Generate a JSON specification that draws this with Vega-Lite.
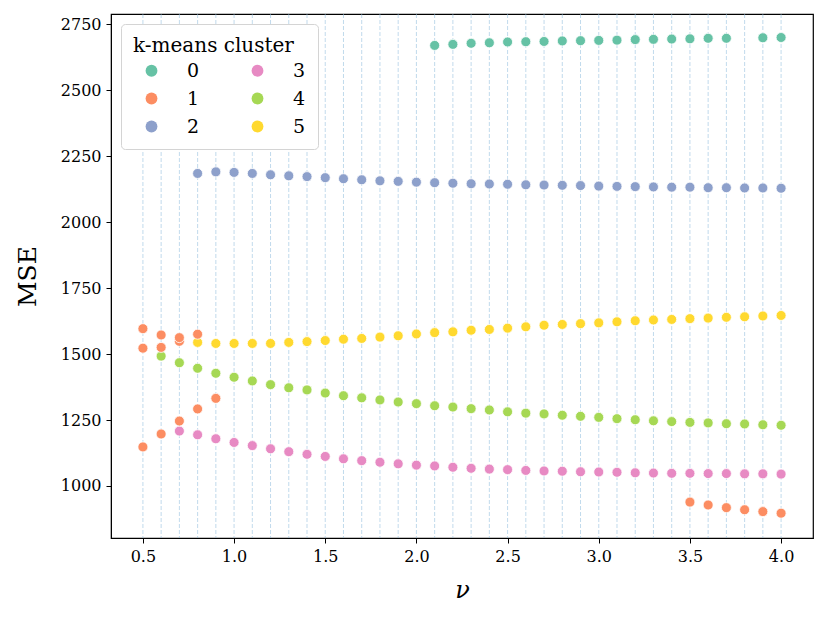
{
  "$schema": "https://vega.github.io/schema/vega-lite/v6.json",
  "autosize": "none",
  "width": 702,
  "height": 524,
  "padding": {"left": 111, "top": 14, "right": 16, "bottom": 83},
  "background": "white",
  "config": {
    "font": "DejaVu Serif",
    "view": {"stroke": "black", "strokeWidth": 1.2},
    "axis": {
      "domainColor": "black", "tickColor": "black", "labelColor": "black", "titleColor": "black",
      "grid": false, "labelFontSize": 16, "titleFontSize": 26, "tickSize": 5, "labelPadding": 5,
      "titleFontWeight": "normal", "labelFont": "DejaVu Serif", "titleFont": "DejaVu Serif"
    },
    "legend": {"labelFont": "DejaVu Serif", "titleFont": "DejaVu Serif"}
  },
  "datasets": {
    "grid": [
      {"nu": 0.5}, {"nu": 0.6}, {"nu": 0.7}, {"nu": 0.8}, {"nu": 0.9}, {"nu": 1.0},
      {"nu": 1.1}, {"nu": 1.2}, {"nu": 1.3}, {"nu": 1.4}, {"nu": 1.5}, {"nu": 1.6},
      {"nu": 1.7}, {"nu": 1.8}, {"nu": 1.9}, {"nu": 2.0}, {"nu": 2.1}, {"nu": 2.2},
      {"nu": 2.3}, {"nu": 2.4}, {"nu": 2.5}, {"nu": 2.6}, {"nu": 2.7}, {"nu": 2.8},
      {"nu": 2.9}, {"nu": 3.0}, {"nu": 3.1}, {"nu": 3.2}, {"nu": 3.3}, {"nu": 3.4},
      {"nu": 3.5}, {"nu": 3.6}, {"nu": 3.7}, {"nu": 3.8}, {"nu": 3.9}, {"nu": 4.0}
    ],
    "points": [
      {"nu": 2.1, "mse": 2669, "cluster": "0"}, {"nu": 2.2, "mse": 2673, "cluster": "0"},
      {"nu": 2.3, "mse": 2677, "cluster": "0"}, {"nu": 2.4, "mse": 2679, "cluster": "0"},
      {"nu": 2.5, "mse": 2682, "cluster": "0"}, {"nu": 2.6, "mse": 2683, "cluster": "0"},
      {"nu": 2.7, "mse": 2684, "cluster": "0"}, {"nu": 2.8, "mse": 2686, "cluster": "0"},
      {"nu": 2.9, "mse": 2687, "cluster": "0"}, {"nu": 3.0, "mse": 2688, "cluster": "0"},
      {"nu": 3.1, "mse": 2689, "cluster": "0"}, {"nu": 3.2, "mse": 2691, "cluster": "0"},
      {"nu": 3.3, "mse": 2692, "cluster": "0"}, {"nu": 3.4, "mse": 2693, "cluster": "0"},
      {"nu": 3.5, "mse": 2694, "cluster": "0"}, {"nu": 3.6, "mse": 2696, "cluster": "0"},
      {"nu": 3.7, "mse": 2696, "cluster": "0"}, {"nu": 3.9, "mse": 2698, "cluster": "0"},
      {"nu": 4.0, "mse": 2699, "cluster": "0"},
      {"nu": 0.8, "mse": 2184, "cluster": "2"}, {"nu": 0.9, "mse": 2190, "cluster": "2"},
      {"nu": 1.0, "mse": 2188, "cluster": "2"}, {"nu": 1.1, "mse": 2184, "cluster": "2"},
      {"nu": 1.2, "mse": 2179, "cluster": "2"}, {"nu": 1.3, "mse": 2175, "cluster": "2"},
      {"nu": 1.4, "mse": 2172, "cluster": "2"}, {"nu": 1.5, "mse": 2168, "cluster": "2"},
      {"nu": 1.6, "mse": 2164, "cluster": "2"}, {"nu": 1.7, "mse": 2160, "cluster": "2"},
      {"nu": 1.8, "mse": 2156, "cluster": "2"}, {"nu": 1.9, "mse": 2154, "cluster": "2"},
      {"nu": 2.0, "mse": 2151, "cluster": "2"}, {"nu": 2.1, "mse": 2149, "cluster": "2"},
      {"nu": 2.2, "mse": 2147, "cluster": "2"}, {"nu": 2.3, "mse": 2145, "cluster": "2"},
      {"nu": 2.4, "mse": 2144, "cluster": "2"}, {"nu": 2.5, "mse": 2143, "cluster": "2"},
      {"nu": 2.6, "mse": 2141, "cluster": "2"}, {"nu": 2.7, "mse": 2140, "cluster": "2"},
      {"nu": 2.8, "mse": 2139, "cluster": "2"}, {"nu": 2.9, "mse": 2138, "cluster": "2"},
      {"nu": 3.0, "mse": 2136, "cluster": "2"}, {"nu": 3.1, "mse": 2135, "cluster": "2"},
      {"nu": 3.2, "mse": 2134, "cluster": "2"}, {"nu": 3.3, "mse": 2133, "cluster": "2"},
      {"nu": 3.4, "mse": 2132, "cluster": "2"}, {"nu": 3.5, "mse": 2132, "cluster": "2"},
      {"nu": 3.6, "mse": 2130, "cluster": "2"}, {"nu": 3.7, "mse": 2130, "cluster": "2"},
      {"nu": 3.8, "mse": 2129, "cluster": "2"}, {"nu": 3.9, "mse": 2129, "cluster": "2"},
      {"nu": 4.0, "mse": 2128, "cluster": "2"},
      {"nu": 0.7, "mse": 1208, "cluster": "3"}, {"nu": 0.8, "mse": 1194, "cluster": "3"},
      {"nu": 0.9, "mse": 1179, "cluster": "3"}, {"nu": 1.0, "mse": 1165, "cluster": "3"},
      {"nu": 1.1, "mse": 1153, "cluster": "3"}, {"nu": 1.2, "mse": 1141, "cluster": "3"},
      {"nu": 1.3, "mse": 1130, "cluster": "3"}, {"nu": 1.4, "mse": 1120, "cluster": "3"},
      {"nu": 1.5, "mse": 1112, "cluster": "3"}, {"nu": 1.6, "mse": 1103, "cluster": "3"},
      {"nu": 1.7, "mse": 1096, "cluster": "3"}, {"nu": 1.8, "mse": 1090, "cluster": "3"},
      {"nu": 1.9, "mse": 1084, "cluster": "3"}, {"nu": 2.0, "mse": 1079, "cluster": "3"},
      {"nu": 2.1, "mse": 1076, "cluster": "3"}, {"nu": 2.2, "mse": 1071, "cluster": "3"},
      {"nu": 2.3, "mse": 1067, "cluster": "3"}, {"nu": 2.4, "mse": 1064, "cluster": "3"},
      {"nu": 2.5, "mse": 1062, "cluster": "3"}, {"nu": 2.6, "mse": 1059, "cluster": "3"},
      {"nu": 2.7, "mse": 1057, "cluster": "3"}, {"nu": 2.8, "mse": 1056, "cluster": "3"},
      {"nu": 2.9, "mse": 1054, "cluster": "3"}, {"nu": 3.0, "mse": 1053, "cluster": "3"},
      {"nu": 3.1, "mse": 1052, "cluster": "3"}, {"nu": 3.2, "mse": 1050, "cluster": "3"},
      {"nu": 3.3, "mse": 1049, "cluster": "3"}, {"nu": 3.4, "mse": 1048, "cluster": "3"},
      {"nu": 3.5, "mse": 1048, "cluster": "3"}, {"nu": 3.6, "mse": 1047, "cluster": "3"},
      {"nu": 3.7, "mse": 1047, "cluster": "3"}, {"nu": 3.8, "mse": 1046, "cluster": "3"},
      {"nu": 3.9, "mse": 1046, "cluster": "3"}, {"nu": 4.0, "mse": 1045, "cluster": "3"},
      {"nu": 0.6, "mse": 1492, "cluster": "4"}, {"nu": 0.7, "mse": 1467, "cluster": "4"},
      {"nu": 0.8, "mse": 1446, "cluster": "4"}, {"nu": 0.9, "mse": 1427, "cluster": "4"},
      {"nu": 1.0, "mse": 1412, "cluster": "4"}, {"nu": 1.1, "mse": 1398, "cluster": "4"},
      {"nu": 1.2, "mse": 1384, "cluster": "4"}, {"nu": 1.3, "mse": 1372, "cluster": "4"},
      {"nu": 1.4, "mse": 1364, "cluster": "4"}, {"nu": 1.5, "mse": 1352, "cluster": "4"},
      {"nu": 1.6, "mse": 1342, "cluster": "4"}, {"nu": 1.7, "mse": 1334, "cluster": "4"},
      {"nu": 1.8, "mse": 1326, "cluster": "4"}, {"nu": 1.9, "mse": 1318, "cluster": "4"},
      {"nu": 2.0, "mse": 1312, "cluster": "4"}, {"nu": 2.1, "mse": 1304, "cluster": "4"},
      {"nu": 2.2, "mse": 1299, "cluster": "4"}, {"nu": 2.3, "mse": 1293, "cluster": "4"},
      {"nu": 2.4, "mse": 1288, "cluster": "4"}, {"nu": 2.5, "mse": 1281, "cluster": "4"},
      {"nu": 2.6, "mse": 1276, "cluster": "4"}, {"nu": 2.7, "mse": 1273, "cluster": "4"},
      {"nu": 2.8, "mse": 1268, "cluster": "4"}, {"nu": 2.9, "mse": 1264, "cluster": "4"},
      {"nu": 3.0, "mse": 1260, "cluster": "4"}, {"nu": 3.1, "mse": 1255, "cluster": "4"},
      {"nu": 3.2, "mse": 1251, "cluster": "4"}, {"nu": 3.3, "mse": 1247, "cluster": "4"},
      {"nu": 3.4, "mse": 1244, "cluster": "4"}, {"nu": 3.5, "mse": 1241, "cluster": "4"},
      {"nu": 3.6, "mse": 1239, "cluster": "4"}, {"nu": 3.7, "mse": 1236, "cluster": "4"},
      {"nu": 3.8, "mse": 1235, "cluster": "4"}, {"nu": 3.9, "mse": 1232, "cluster": "4"},
      {"nu": 4.0, "mse": 1230, "cluster": "4"},
      {"nu": 0.8, "mse": 1544, "cluster": "5"}, {"nu": 0.9, "mse": 1540, "cluster": "5"},
      {"nu": 1.0, "mse": 1540, "cluster": "5"}, {"nu": 1.1, "mse": 1540, "cluster": "5"},
      {"nu": 1.2, "mse": 1540, "cluster": "5"}, {"nu": 1.3, "mse": 1544, "cluster": "5"},
      {"nu": 1.4, "mse": 1547, "cluster": "5"}, {"nu": 1.5, "mse": 1551, "cluster": "5"},
      {"nu": 1.6, "mse": 1556, "cluster": "5"}, {"nu": 1.7, "mse": 1559, "cluster": "5"},
      {"nu": 1.8, "mse": 1564, "cluster": "5"}, {"nu": 1.9, "mse": 1569, "cluster": "5"},
      {"nu": 2.0, "mse": 1576, "cluster": "5"}, {"nu": 2.1, "mse": 1581, "cluster": "5"},
      {"nu": 2.2, "mse": 1584, "cluster": "5"}, {"nu": 2.3, "mse": 1590, "cluster": "5"},
      {"nu": 2.4, "mse": 1593, "cluster": "5"}, {"nu": 2.5, "mse": 1598, "cluster": "5"},
      {"nu": 2.6, "mse": 1603, "cluster": "5"}, {"nu": 2.7, "mse": 1609, "cluster": "5"},
      {"nu": 2.8, "mse": 1612, "cluster": "5"}, {"nu": 2.9, "mse": 1615, "cluster": "5"},
      {"nu": 3.0, "mse": 1618, "cluster": "5"}, {"nu": 3.1, "mse": 1622, "cluster": "5"},
      {"nu": 3.2, "mse": 1626, "cluster": "5"}, {"nu": 3.3, "mse": 1629, "cluster": "5"},
      {"nu": 3.4, "mse": 1631, "cluster": "5"}, {"nu": 3.5, "mse": 1634, "cluster": "5"},
      {"nu": 3.6, "mse": 1636, "cluster": "5"}, {"nu": 3.7, "mse": 1639, "cluster": "5"},
      {"nu": 3.8, "mse": 1641, "cluster": "5"}, {"nu": 3.9, "mse": 1644, "cluster": "5"},
      {"nu": 4.0, "mse": 1646, "cluster": "5"},
      {"nu": 0.5, "mse": 1522, "cluster": "1"}, {"nu": 0.5, "mse": 1596, "cluster": "1"},
      {"nu": 0.5, "mse": 1148, "cluster": "1"}, {"nu": 0.6, "mse": 1525, "cluster": "1"},
      {"nu": 0.6, "mse": 1572, "cluster": "1"}, {"nu": 0.6, "mse": 1197, "cluster": "1"},
      {"nu": 0.7, "mse": 1548, "cluster": "1"}, {"nu": 0.7, "mse": 1562, "cluster": "1"},
      {"nu": 0.7, "mse": 1246, "cluster": "1"}, {"nu": 0.8, "mse": 1575, "cluster": "1"},
      {"nu": 0.8, "mse": 1292, "cluster": "1"}, {"nu": 0.9, "mse": 1332, "cluster": "1"},
      {"nu": 3.5, "mse": 939, "cluster": "1"}, {"nu": 3.6, "mse": 928, "cluster": "1"},
      {"nu": 3.7, "mse": 918, "cluster": "1"}, {"nu": 3.8, "mse": 910, "cluster": "1"},
      {"nu": 3.9, "mse": 903, "cluster": "1"}, {"nu": 4.0, "mse": 897, "cluster": "1"}
    ]
  },
  "layer": [
    {
      "data": {"name": "grid"},
      "mark": {"type": "rule", "color": "#8fbcdc", "strokeDash": [4, 2], "strokeWidth": 0.8, "opacity": 0.7},
      "encoding": {
        "x": {"field": "nu", "type": "quantitative", "scale": {"domain": [0.325, 4.175], "nice": false, "zero": false}}
      }
    },
    {
      "data": {"name": "points"},
      "mark": {"type": "point", "filled": true, "size": 100, "opacity": 1, "stroke": "white", "strokeWidth": 0.8},
      "encoding": {
        "x": {
          "field": "nu", "type": "quantitative",
          "scale": {"domain": [0.325, 4.175], "nice": false, "zero": false},
          "axis": {"title": "ν", "titleFontStyle": "italic", "titleFontSize": 24, "values": [0.5, 1.0, 1.5, 2.0, 2.5, 3.0, 3.5, 4.0], "format": ".1f", "titlePadding": 14}
        },
        "y": {
          "field": "mse", "type": "quantitative",
          "scale": {"domain": [803, 2788], "nice": false, "zero": false},
          "axis": {"title": "MSE", "titleFontSize": 25, "format": "d", "values": [1000, 1250, 1500, 1750, 2000, 2250, 2500, 2750], "titlePadding": 20}
        },
        "color": {
          "field": "cluster", "type": "nominal",
          "scale": {"domain": ["0", "1", "2", "3", "4", "5"], "range": ["#66c2a5", "#fc8d62", "#8da0cb", "#e78ac3", "#a6d854", "#ffd92f"]},
          "legend": {
            "title": "k-means cluster", "orient": "top-left", "offset": 10, "columns": 2,
            "fillColor": "white", "strokeColor": "#d4d4d4", "cornerRadius": 4, "padding": 12,
            "titleFont": "DejaVu Serif", "labelFont": "DejaVu Serif",
            "titleFontSize": 20, "titleFontWeight": "normal", "titlePadding": 5,
            "labelFontSize": 19, "labelOffset": 26, "symbolSize": 140, "symbolStrokeWidth": 0,
            "symbolOffset": 9, "columnPadding": 39, "rowPadding": 8, "symbolType": "circle"
          }
        }
      }
    }
  ]
}
